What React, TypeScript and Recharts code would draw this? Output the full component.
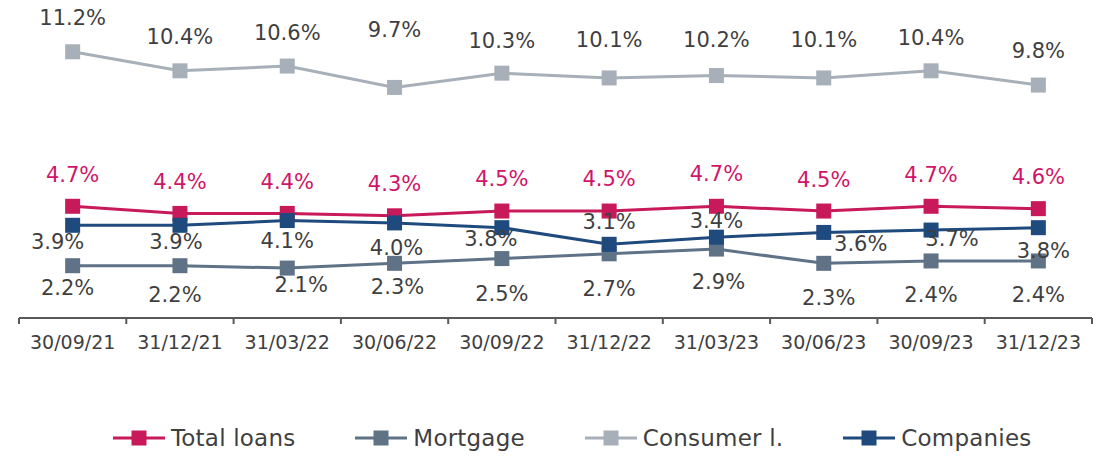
import { LineChart, Line, XAxis, YAxis, Legend, LabelList } from 'recharts'

const categories = ['30/09/21', '31/12/21', '31/03/22', '30/06/22', '30/09/22', '31/12/22', '31/03/23', '30/06/23', '30/09/23', '31/12/23']
const totalLoans = [4.7, 4.4, 4.4, 4.3, 4.5, 4.5, 4.7, 4.5, 4.7, 4.6]
const mortgage = [2.2, 2.2, 2.1, 2.3, 2.5, 2.7, 2.9, 2.3, 2.4, 2.4]
const consumer = [11.2, 10.4, 10.6, 9.7, 10.3, 10.1, 10.2, 10.1, 10.4, 9.8]
const companies = [3.9, 3.9, 4.1, 4.0, 3.8, 3.1, 3.4, 3.6, 3.7, 3.8]

const data = categories.map((date, i) => ({
  i,
  date,
  total: totalLoans[i],
  mortgage: mortgage[i],
  consumer: consumer[i],
  companies: companies[i],
}))

// hand-placed label nudges, relative to each marker (as in the source sheet)
const nudges = {
  total: { dx: [0, 0, 0, 0, 0, 0, 0, 0, 0, 0], dy: [-32, -32, -32, -32, -33, -33, -33, -32, -32, -32] },
  mortgage: { dx: [-5, -5, 14, 3, 0, 0, 2, 5, 0, 0], dy: [22, 29, 16, 23, 35, 35, 32, 34, 34, 34] },
  consumer: { dx: [0, 0, 0, 0, 0, 0, 0, 0, 0, 0], dy: [-34, -34, -34, -58, -33, -38, -36, -38, -33, -35] },
  companies: { dx: [-15, -4, 0, 2, -11, 0, 0, 37, 21, 5], dy: [16, 16, 20, 25, 11, -23, -17, 11, 8, 23] },
}

const colors = {
  total: '#C8195A',
  mortgage: '#5F7286',
  consumer: '#A7B0B8',
  companies: '#1F4A7E',
}

const FONT = '"DejaVu Sans", Verdana, sans-serif'
const TEXT = '#3F3F3F'
const W = 1107
const H = 456
const M = { top: 9, right: 15, bottom: 98, left: 19 }
const PLOT_W = W - M.left - M.right
const BAND = PLOT_W / categories.length

const series = [
  { key: 'total', name: 'Total loans', labelColor: '#CF1568' },
  { key: 'mortgage', name: 'Mortgage', labelColor: TEXT },
  { key: 'consumer', name: 'Consumer l.', labelColor: TEXT },
  { key: 'companies', name: 'Companies', labelColor: TEXT },
] as const

function SquareDot(props: any) {
  const { cx, cy, fill } = props
  if (cx == null || cy == null) return null
  return <rect x={cx - 7.5} y={cy - 7.5} width={15} height={15} fill={fill} />
}

function makeLabel(key: keyof typeof nudges, color: string) {
  return (props: any) => {
    const { x, y, value, index } = props
    if (x == null || y == null) return null
    const n = nudges[key]
    return (
      <text
        x={x + n.dx[index]}
        y={y + n.dy[index] + 7.5}
        textAnchor="middle"
        fontFamily={FONT}
        fontSize={21}
        fill={color}
      >
        {value.toFixed(1)}%
      </text>
    )
  }
}

function DateTick(props: any) {
  const { x, y, payload, index } = props
  const axisY = y - 18
  return (
    <g>
      <line x1={x - BAND / 2} x2={x - BAND / 2} y1={axisY} y2={axisY + 6} stroke="#595959" strokeWidth={2} />
      {index === categories.length - 1 && (
        <line x1={x + BAND / 2} x2={x + BAND / 2} y1={axisY} y2={axisY + 6} stroke="#595959" strokeWidth={2} />
      )}
      <text x={x} y={y} dy="0.71em" textAnchor="middle" fontFamily={FONT} fontSize={19} fill={TEXT}>
        {categories[payload.value]}
      </text>
    </g>
  )
}

function LegendBox() {
  return (
    <div
      style={{
        display: 'flex',
        alignItems: 'center',
        gap: 60,
        paddingLeft: 113,
        fontFamily: FONT,
        fontSize: 23,
        letterSpacing: 0.2,
        color: TEXT,
        whiteSpace: 'nowrap',
        width: 'max-content',
      }}
    >
      {series.map((s) => (
        <div key={s.key} style={{ display: 'flex', alignItems: 'center', flexShrink: 0 }}>
          <svg width={52} height={16} style={{ flexShrink: 0 }}>
            <line x1={0} y1={8} x2={52} y2={8} stroke={colors[s.key]} strokeWidth={3} />
            <rect x={18.5} y={0.5} width={15} height={15} fill={colors[s.key]} />
          </svg>
          <span style={{ marginLeft: 6 }}>{s.name}</span>
        </div>
      ))}
    </div>
  )
}

export default function App() {
  return (
    <div style={{ position: 'absolute', left: 0, top: 0, width: W, height: H, background: '#fff' }}>
      <LineChart width={W} height={H} data={data} margin={M}>
        <XAxis
          dataKey="i"
          type="number"
          domain={[-0.5, categories.length - 0.5]}
          ticks={categories.map((_, i) => i)}
          interval={0}
          height={40}
          tickSize={6}
          tickMargin={12}
          tickLine={false}
          axisLine={{ stroke: '#595959', strokeWidth: 2 }}
          tick={<DateTick />}
        />
        <YAxis hide domain={[0, 13]} />
        <Legend
          verticalAlign="middle"
          align="center"
          layout="horizontal"
          content={<LegendBox />}
          wrapperStyle={{ top: 425, left: 0, width: W, height: 30 }}
        />
        {series.map((s) => (
          <Line
            key={s.key}
            dataKey={s.key}
            name={s.name}
            type="linear"
            stroke={colors[s.key]}
            strokeWidth={3}
            dot={<SquareDot fill={colors[s.key]} />}
            activeDot={false}
            isAnimationActive={false}
          >
            <LabelList dataKey={s.key} content={makeLabel(s.key, s.labelColor)} />
          </Line>
        ))}
      </LineChart>
    </div>
  )
}
